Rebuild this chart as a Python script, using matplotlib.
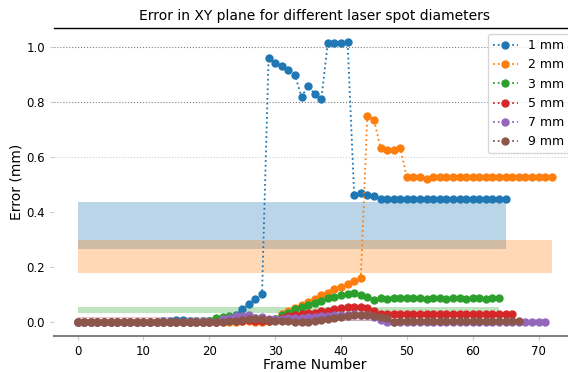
import numpy as np
import matplotlib
import matplotlib.pyplot as plt

matplotlib.use("Agg")

labels = ["1 mm", "2 mm", "3 mm", "5 mm", "7 mm", "9 mm"]

err_1mm = [0.0] * 13 + [0.005, 0.003, 0.006, 0.006, 0.002, 0.002, 0.002, 0.002, 0.004, 0.006,
                        0.013, 0.025, 0.046, 0.065, 0.083, 0.101,
                        0.961, 0.944, 0.931, 0.915, 0.899, 0.819, 0.858, 0.830, 0.810,
                        1.016, 1.016, 1.016, 1.019,
                        0.463, 0.468, 0.463, 0.457] + [0.449] * 20

err_2mm = [0.0] * 25 + [0.002, 0.003, 0.0, 0.0, 0.002, 0.01, 0.03, 0.04, 0.05, 0.062,
                        0.074, 0.083, 0.097, 0.107, 0.119, 0.128, 0.138, 0.150, 0.159,
                        0.750, 0.736, 0.634, 0.624, 0.624, 0.634,
                        0.526, 0.527, 0.527, 0.521] + [0.527] * 19

err_3mm = [0.0] * 20 + [0.005, 0.013, 0.017, 0.020, 0.022, 0.020, 0.018, 0.015, 0.010, 0.005,
                        0.012, 0.025, 0.034, 0.046, 0.053, 0.062, 0.070, 0.077, 0.086, 0.090,
                        0.097, 0.102, 0.107, 0.099, 0.092, 0.080, 0.086,
                        0.085, 0.087, 0.086, 0.088, 0.086, 0.087, 0.085, 0.086, 0.086,
                        0.084, 0.086, 0.087, 0.085, 0.086, 0.087, 0.085, 0.086, 0.087]

err_5mm = [0.0] * 22 + [0.006, 0.007, 0.005, 0.004, 0.006, 0.003, 0.002, 0.004, 0.008,
                        0.015, 0.020, 0.025, 0.028, 0.032, 0.034, 0.040, 0.041, 0.047,
                        0.051, 0.056, 0.056, 0.053, 0.050, 0.041, 0.029] + [0.029] * 20

err_7mm = [0.0] * 22 + [0.010, 0.016, 0.020, 0.022, 0.024, 0.015, 0.018, 0.010, 0.012,
                        0.012, 0.014, 0.015, 0.016, 0.017, 0.018, 0.020, 0.022, 0.024,
                        0.025, 0.026, 0.027, 0.026, 0.025, 0.018, 0.007] + [0.0] * 25

err_9mm = [0.0] * 23 + [0.003, 0.005, 0.008, 0.010, 0.012, 0.010, 0.008, 0.005, 0.003,
                        0.002, 0.001, 0.0, 0.001, 0.005, 0.007, 0.010, 0.013, 0.017,
                        0.022, 0.024, 0.024, 0.024, 0.022, 0.019, 0.013, 0.001] + [0.005] * 19

# shaded bands (low, high)
band_lo = [0.264, 0.177, 0.034, 0.014, 0.005, 0.003]
band_hi = [0.437, 0.298, 0.053, 0.019, 0.011, 0.008]

series = [err_1mm, err_2mm, err_3mm, err_5mm, err_7mm, err_9mm]
colors = ["tab:blue", "tab:orange", "tab:green", "tab:red", "tab:purple", "tab:brown"]

fig = plt.figure(figsize=(5.68, 3.72), dpi=100)
ax = fig.add_axes([0.095, 0.097, 0.918, 0.828])

for s, lo, hi, c in zip(series, band_lo, band_hi, colors):
    frames = np.arange(len(s))
    ax.fill_between(frames, lo, hi, color=c, alpha=0.3, linewidth=0, zorder=1)

for s, lab, c in zip(series, labels, colors):
    frames = np.arange(len(s))
    ax.plot(frames, s, ":", marker="o", markersize=5, linewidth=1.3, color=c, label=lab, zorder=3)

ax.set_title("Error in XY plane for different laser spot diameters", fontsize=10)
ax.set_xlabel("Frame Number", fontsize=10, labelpad=0)
ax.set_ylabel("Error (mm)", fontsize=10, labelpad=2)
ax.set_xticks(range(0, 71, 10))
ax.set_yticks([0.0, 0.2, 0.4, 0.6, 0.8, 1.0])
ax.tick_params(labelsize=8.5, length=3, color="#cccccc")

ax.grid(axis="y", linestyle=":", color="gray", linewidth=0.8, zorder=0)
ax.set_axisbelow(True)
for gl, a in zip(ax.yaxis.get_gridlines(), [0.0, 0.0, 0.0, 0.4, 1.0, 1.0]):
    gl.set_alpha(a)

ax.spines["left"].set_visible(False)
ax.spines["right"].set_visible(False)
ax.spines["bottom"].set_color("#808080")
ax.spines["bottom"].set_linewidth(1.5)
ax.spines["top"].set_color("black")
ax.spines["top"].set_linewidth(1.0)

ax.legend(loc="upper right", fontsize=9)

fig.savefig("out.png", dpi=100)
